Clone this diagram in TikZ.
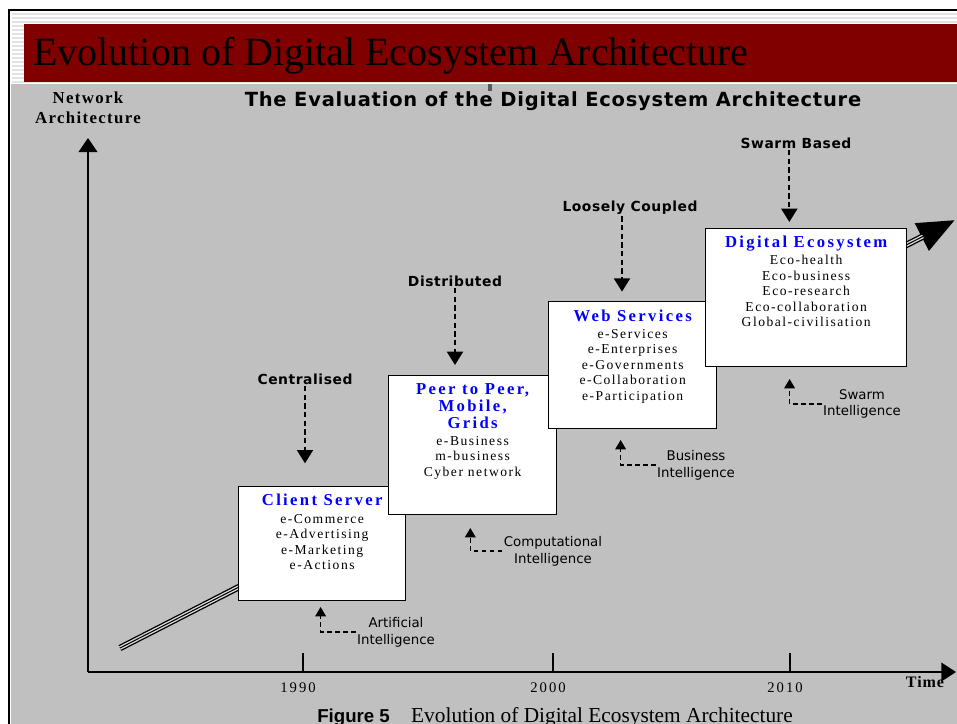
\documentclass[tikz,border=0pt]{standalone}
\usepackage{fontspec}
\setmainfont{Liberation Serif}
\setsansfont{Liberation Sans}
\newfontfamily\erafont[LetterSpace=11]{Liberation Serif}
\newfontfamily\widesans[LetterSpace=4]{DejaVu Sans}
\newfontfamily\handfont{DejaVu Sans}
\usetikzlibrary{arrows.meta,positioning,calc}
\definecolor{slidered}{RGB}{128,0,0}
\definecolor{panelgray}{RGB}{192,192,192}
\definecolor{stripegray}{RGB}{226,226,226}
\definecolor{headblue}{RGB}{0,0,255}
\newcommand{\eratitle}[1]{{\color{headblue}\bfseries\addfontfeature{LetterSpace=14}\fontsize{12.5}{14.5}\selectfont #1}}

\tikzset{
  era/.style={draw=black,fill=white,line width=1pt,anchor=north west,inner sep=0pt},
  eratext/.style={anchor=north,align=center,inner sep=0pt,
                  font=\erafont\fontsize{10.2}{11.6}\selectfont},
  paradigm/.style={font=\widesans\bfseries\fontsize{10.4}{12}\selectfont,inner sep=1pt},
  droparrow/.style={line width=1.5pt,dash pattern=on 4pt off 2.5pt,
                    -{Triangle[length=10pt,width=12pt]}},
  intel/.style={font=\handfont\fontsize{10}{12.6}\selectfont,align=center,inner sep=1pt},
  intelarrow/.style={line width=1pt,dash pattern=on 3.5pt off 2.5pt,
                     -{Triangle[length=7pt,width=8pt]}},
  axislabel/.style={font=\bfseries\addfontfeature{LetterSpace=6}\fontsize{12}{15}\selectfont},
}

\begin{document}
\begin{tikzpicture}[x=0.75pt,y=-0.75pt]
  \useasboundingbox (0,0) rectangle (957,724);
  \clip (0,0) rectangle (957,724);
  \fill[white] (0,0) rectangle (957,724);

  % slide header
  \foreach \s in {14,18,...,82}
    \draw[stripegray,line width=1.4pt] (12,\s) -- (957,\s);
  \fill[slidered] (24,24) rectangle (957,82);
  \node[anchor=base west,inner sep=0pt,font=\fontsize{30}{31}\selectfont]
    (slidetitle) at (33,66) {Evolution of Digital Ecosystem Architecture};
  \fill[panelgray] (11,84) rectangle (957,724);
  \fill[black!65] (488,84) rectangle (492,91);
  \draw[line width=1.6pt] (957,10) -- (9,10) -- (9,724);

  % axes
  \draw[line width=1.2pt,-{Triangle[length=10.5pt,width=14pt]}] (88,672) -- (88,138);
  \draw[line width=1.2pt,-{Triangle[length=11pt,width=14pt]}] (88,672) -- (956,672);
  \foreach \x/\yr in {303/1990,553/2000,790/2010} {
    \draw[line width=0.9pt] (\x,672) -- (\x,653);
    \node[font=\addfontfeature{LetterSpace=14}\fontsize{11}{12}\selectfont] (y\yr) at (\x-5,688) {\yr};
  }
  \node[axislabel] (timelbl) at (925,682) {Time};
  \node[axislabel,font=\bfseries\addfontfeature{LetterSpace=8}\fontsize{12.6}{15}\selectfont,align=center]
    (netarch) at (88,108) {Network\\Architecture};
  \node[font=\widesans\bfseries\fontsize{14.6}{17}\selectfont] (charttitle)
    at (553,101) {The Evaluation of the Digital Ecosystem Architecture};

  % growth trend behind the boxes
  \coordinate (trendstart) at (120,648);
  \coordinate (trendend) at (955,220);
  \draw[line width=4.8pt,-{Triangle[length=28pt,width=22pt]}] (trendstart) -- (trendend);
  \draw[line width=2.8pt,panelgray!55!white,shorten >=27pt] (trendstart) -- (trendend);
  \draw[line width=0.8pt,shorten >=27pt] (trendstart) -- (trendend);

  % era boxes
  \node[era,minimum width=125.25pt,minimum height=85.5pt] (cs) at (238,486) {};
  \node[eratext] (cs-txt) at ([yshift=-5.5pt]cs.north)
    {\eratitle{Client Server}\\[2pt] e-Commerce\\ e-Advertising\\ e-Marketing\\ e-Actions};
  \node[era,minimum width=126pt,minimum height=104.25pt] (p2p) at (388,375) {};
  \node[eratext] (p2p-txt) at ([yshift=-6.5pt]p2p.north)
    {\eratitle{Peer to Peer,}\\[1pt] \eratitle{Mobile,}\\[1pt] \eratitle{Grids}\\[1pt]
     e-Business\\ m-business\\ Cyber network};
  \node[era,minimum width=126pt,minimum height=95.25pt] (ws) at (548,301) {};
  \node[eratext] (ws-txt) at ([yshift=-6.5pt]ws.north)
    {\eratitle{Web Services}\\[1pt] e-Services\\ e-Enterprises\\ e-Governments\\
     e-Collaboration\\ e-Participation};
  \node[era,minimum width=150.75pt,minimum height=103.5pt] (de) at (705,228) {};
  \node[eratext] (de-txt) at ([yshift=-6pt]de.north)
    {\eratitle{Digital Ecosystem}\\[1pt] Eco-health\\ Eco-business\\ Eco-research\\
     Eco-collaboration\\ Global-civilisation};

  % architecture styles
  \node[paradigm] (cen) at (305,379) {Centralised};
  \draw[droparrow,shorten >=17pt] (cen.south) -- (cen.south |- cs.north);
  \node[paradigm] (dist) at (455,281) {Distributed};
  \draw[droparrow,shorten >=7.5pt] (dist.south) -- (dist.south |- p2p.north);
  \node[paradigm] (loose) at (630,208) {Loosely Coupled};
  \draw[droparrow,shorten >=7pt] ([xshift=-6pt]loose.south) -- ([xshift=-6pt]loose.south |- ws.north);
  \node[paradigm] (swarm) at (796,143) {Swarm Based};
  \draw[droparrow,shorten >=4.5pt] ([xshift=-5pt]swarm.south) -- ([xshift=-5pt]swarm.south |- de.north);

  % intelligence behind each era
  \node[intel] (ai) at (396,632) {Artificial\\Intelligence};
  \draw[intelarrow] (ai.west) -| ++(-35,-25);
  \node[intel] (ci) at (553,551) {Computational\\Intelligence};
  \draw[intelarrow] (ci.west) -| ++(-32,-23);
  \node[intel] (bi) at (696,465) {Business\\Intelligence};
  \draw[intelarrow] (bi.west) -| ++(-35,-25);
  \node[intel] (si) at (862,404) {Swarm\\Intelligence};
  \draw[intelarrow] (si.west) -| ++(-32,-25);

  \node[anchor=base,font=\fontsize{16}{17}\selectfont] (caption) at (555,722)
    {{\sffamily\bfseries\fontsize{14}{17}\selectfont Figure 5}\quad Evolution of Digital Ecosystem Architecture};
\end{tikzpicture}
\end{document}
